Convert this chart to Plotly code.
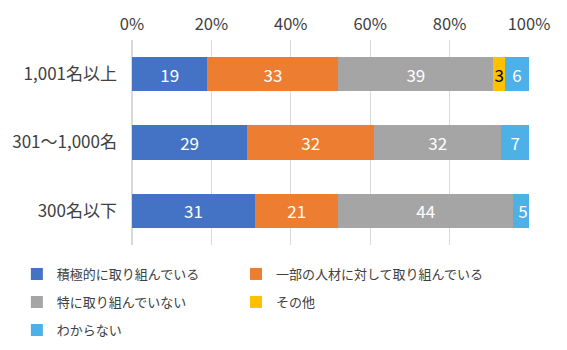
import plotly.graph_objects as go

categories = ["1,001名以上", "301～1,000名", "300名以下"]
series_names = ["積極的に取り組んでいる", "一部の人材に対して取り組んでいる",
                "特に取り組んでいない", "その他", "わからない"]
v_active = [19, 29, 31]
v_partial = [33, 32, 21]
v_none = [39, 32, 44]
v_other = [3, None, None]
v_unknown = [6, 7, 5]
tick_vals = [0, 20, 40, 60, 80, 100]
tick_text = ["0%", "20%", "40%", "60%", "80%", "100%"]

colors = ["#4472C4", "#ED7D31", "#A5A5A5", "#FFC000", "#4DB0E6"]
label_colors = ["white", "white", "white", "black", "white"]
series_values = [v_active, v_partial, v_none, v_other, v_unknown]

# one legend per entry, laid out as a two-column grid below the plot
legend_ids = ["legend", "legend2", "legend3", "legend4", "legend5"]
legend_x = [-0.29, 0.262, -0.29, 0.262, -0.29]
legend_y = [-0.1415, -0.1415, -0.278, -0.278, -0.415]

FONT = "Noto Sans CJK JP"
TEXT = "#404040"

fig = go.Figure()
for name, vals, col, lc, lg in zip(series_names, series_values, colors,
                                   label_colors, legend_ids):
    fig.add_trace(go.Bar(
        y=categories, x=vals, name=name, orientation="h",
        marker=dict(color=col, line=dict(width=0)),
        text=[("" if v is None else str(v)) for v in vals],
        textposition="inside", insidetextanchor="middle", textangle=0,
        textfont=dict(color=lc, size=17, family=FONT),
        width=0.5, hoverinfo="x+name", legend=lg,
    ))

legend_layout = {}
for lg, lx, ly in zip(legend_ids, legend_x, legend_y):
    legend_layout[lg] = dict(
        orientation="v", xanchor="left", yanchor="middle", x=lx, y=ly,
        font=dict(size=13, color=TEXT, family=FONT),
        itemwidth=30, bgcolor="rgba(0,0,0,0)",
    )

fig.update_layout(
    width=567, height=350,
    barmode="stack",
    margin=dict(l=132, r=38, t=40, b=105, autoexpand=False),
    paper_bgcolor="white", plot_bgcolor="white",
    font=dict(family=FONT, color=TEXT, size=14),
    uniformtext=dict(mode="show", minsize=17),
    xaxis=dict(
        side="top", range=[0, 100], tickvals=tick_vals, ticktext=tick_text,
        showgrid=True, gridcolor="#D9D9D9", gridwidth=1,
        zeroline=True, zerolinecolor="#D9D9D9", showline=False,
        tickfont=dict(size=16.5, color=TEXT, family=FONT),
        ticks="", ticklabelstandoff=6, fixedrange=True,
    ),
    yaxis=dict(
        categoryorder="array", categoryarray=categories,
        tickfont=dict(size=17, color=TEXT, family=FONT),
        ticks="", showline=False, showgrid=False,
        ticklabelstandoff=14, range=[2.5, -0.5],
    ),
    showlegend=True,
    **legend_layout,
)

fig.write_html("out.html")
